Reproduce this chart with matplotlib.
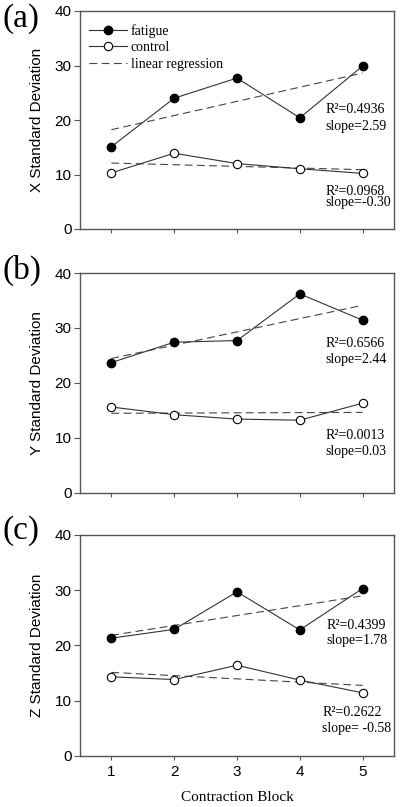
import numpy as np
import matplotlib
matplotlib.use('Agg')
import matplotlib.pyplot as plt

# data
blocks = [1, 2, 3, 4, 5]
x_fatigue = [15.1, 24.0, 27.7, 20.4, 29.9]
x_control = [10.3, 13.9, 12.0, 11.05, 10.2]
y_fatigue = [23.7, 27.4, 27.7, 36.2, 31.4]
y_control = [15.6, 14.2, 13.4, 13.2, 16.3]
z_fatigue = [21.3, 22.9, 29.7, 22.8, 30.3]
z_control = [14.3, 13.8, 16.4, 13.7, 11.4]

fatigue_stats = [("0.4936", "2.59"), ("0.6566", "2.44"), ("0.4399", "1.78")]
control_stats = [("0.0968", "-0.30"), ("0.0013", "0.03"), ("0.2622", " -0.58")]

panel_labels = ["(a)", "(b)", "(c)"]
ylabels = ["X Standard Deviation", "Y Standard Deviation", "Z Standard Deviation"]
yticks = [0, 10, 20, 30, 40]

SERIF = ['Liberation Serif', 'DejaVu Serif']
SANS = ['Liberation Sans', 'DejaVu Sans']
plt.rcParams['font.family'] = SANS

W, H = 400, 807
fig = plt.figure(figsize=(W / 100, H / 100), dpi=100)

# axes boxes in pixels: (top, bottom)
boxes = [(11, 229), (273, 492.7), (535, 755.7)]
label_y = [19, 270, 531]
# annotation anchors (x, y of R2 line, y of slope line) in data units
fat_pos = [(4.41, 21.9, 18.8), (4.41, 27.25, 24.3), (4.43, 23.6, 20.8)]
ctl_pos = [(4.41, 6.9, 4.8), (4.41, 10.5, 7.5), (4.36, 7.8, 4.95)]

series = [(x_fatigue, x_control), (y_fatigue, y_control), (z_fatigue, z_control)]
spine_col = '#555555'
line_col = '#333333'
dash_col = '#444444'

for i, (top, bot) in enumerate(boxes):
    ax = fig.add_axes([80 / W, 1 - bot / H, 314 / W, (bot - top) / H])
    fat, ctl = series[i]
    xs = np.array(blocks, dtype=float)

    ax.plot(blocks, fat, '-', color=line_col, lw=0.8, marker='o', ms=6,
            mfc='black', mec='black', label='fatigue', zorder=3)
    ax.plot(blocks, ctl, '-', color=line_col, lw=0.8, marker='o', ms=6,
            mfc='white', mec='black', mew=0.8, label='control', zorder=3)

    for j, vals in enumerate((fat, ctl)):
        k, b = np.polyfit(xs, vals, 1)
        ax.plot(xs, k * xs + b, color=dash_col, lw=0.8, dashes=(7, 4),
                label='linear regression' if j == 0 else None, zorder=2)

    ax.set_xlim(0.5, 5.5)
    ax.set_ylim(0, 40)
    ax.set_xticks(blocks)
    ax.set_yticks(yticks)
    for s in ax.spines.values():
        s.set_color(spine_col)
        s.set_linewidth(1.0)
    ax.tick_params(axis='y', direction='out', length=4, width=0.8,
                   color=spine_col, labelsize=11, pad=2)
    ax.tick_params(axis='x', direction='out', length=3, width=0.8,
                   color=spine_col, labelsize=11, pad=4)
    if i < 2:
        ax.set_xticklabels([])
    else:
        ax.set_xlabel("Contraction Block", family=SERIF, fontsize=11)
        ax.xaxis.set_label_coords(0.5, -0.16)

    ax.set_ylabel(ylabels[i], fontsize=11)
    ax.yaxis.set_label_coords(-0.115, 0.5)

    fx, fy1, fy2 = fat_pos[i]
    ax.text(fx, fy1, "R\u00b2=" + fatigue_stats[i][0], family=SERIF,
            fontsize=10, va='center', ha='left')
    ax.text(fx, fy2, "slope=" + fatigue_stats[i][1], family=SERIF,
            fontsize=10, va='center', ha='left')
    cx, cy1, cy2 = ctl_pos[i]
    ax.text(cx, cy1, "R\u00b2=" + control_stats[i][0], family=SERIF,
            fontsize=10, va='center', ha='left')
    ax.text(cx, cy2, "slope=" + control_stats[i][1], family=SERIF,
            fontsize=10, va='center', ha='left')

    if i == 0:
        ax.legend(loc='upper left', bbox_to_anchor=(-0.015, 1.005), frameon=False,
                  prop={'family': SERIF, 'size': 10}, handlelength=2.7,
                  labelspacing=0.25, handletextpad=0.3, borderpad=0.5)

    fig.text(3 / W, 1 - label_y[i] / H, panel_labels[i], family=SERIF,
             fontsize=24, va='center', ha='left')

fig.savefig('out.png', dpi=100)
